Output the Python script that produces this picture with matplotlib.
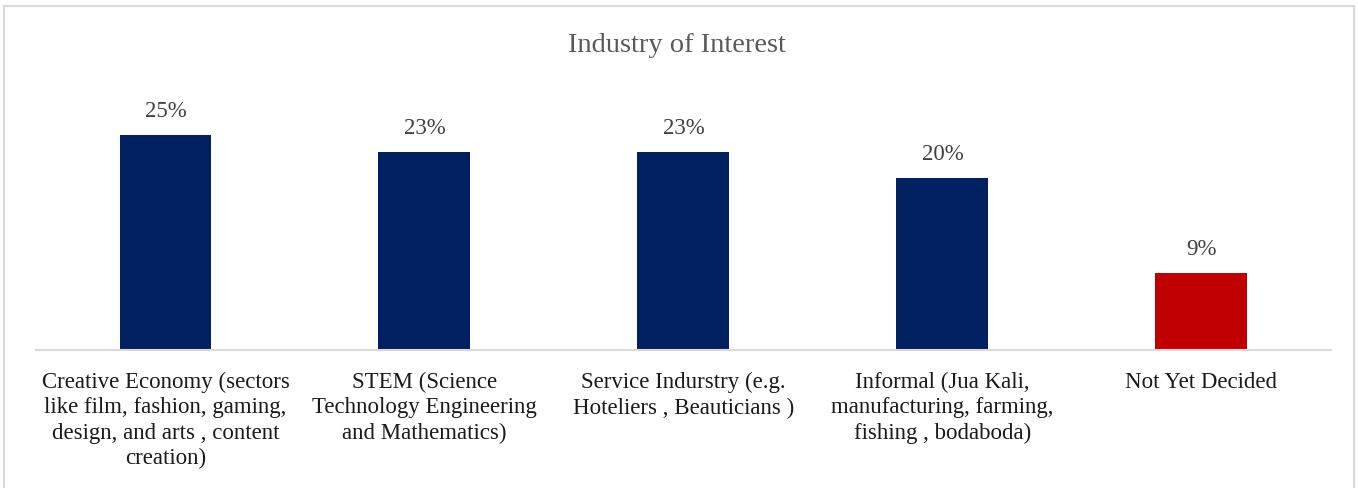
import matplotlib.pyplot as plt
from matplotlib.patches import Rectangle

categories = [
    'Creative Economy (sectors\nlike film, fashion, gaming,\ndesign, and arts , content\ncreation)',
    'STEM (Science\nTechnology Engineering\nand Mathematics)',
    'Service Indurstry (e.g.\nHoteliers , Beauticians )',
    'Informal (Jua Kali,\nmanufacturing, farming,\nfishing , bodaboda)',
    'Not Yet Decided',
]
shares = [25, 23, 23, 20, 9]
bar_colors = ['#002060', '#002060', '#002060', '#002060', '#C00000']

plt.rcParams['font.family'] = ['Liberation Serif', 'DejaVu Serif']

fig = plt.figure(figsize=(13.58, 4.89), dpi=100)
ax = fig.add_axes([0.0265, 0.2822, 0.9535, 0.534])

x = list(range(len(shares)))
bars = ax.bar(x, shares, width=0.355, color=bar_colors)

# value labels over each bar
for b, v in zip(bars, shares):
    ax.annotate(f'{v}%', (b.get_x() + b.get_width() / 2, v),
                xytext=(0, 10), textcoords='offset points',
                ha='center', va='bottom', fontsize=16.5, color='#404040')

ax.set_xlim(-0.5, len(shares) - 0.5)
ax.set_ylim(0, 30.35)
ax.set_xticks(x)
ax.set_xticklabels(categories, fontsize=16.5, color='#1a1a1a', linespacing=1.27)
ax.tick_params(axis='x', length=0, pad=15)
ax.set_yticks([])
for s in ['top', 'right', 'left']:
    ax.spines[s].set_visible(False)
ax.spines['bottom'].set_color('#d9d9d9')
ax.spines['bottom'].set_linewidth(1.5)

fig.text(0.4985, 1 - 46 / 489, 'Industry of Interest', ha='center', va='center',
         fontsize=20.5, color='#595959')

# light chart-area frame
fig.patches.append(Rectangle((4 / 1358, -0.05), 1350 / 1358, 1.05 - 7 / 489,
                             transform=fig.transFigure, fill=False,
                             edgecolor='#d9d9d9', linewidth=1.5))

fig.savefig('out.png', dpi=100, facecolor='white')
